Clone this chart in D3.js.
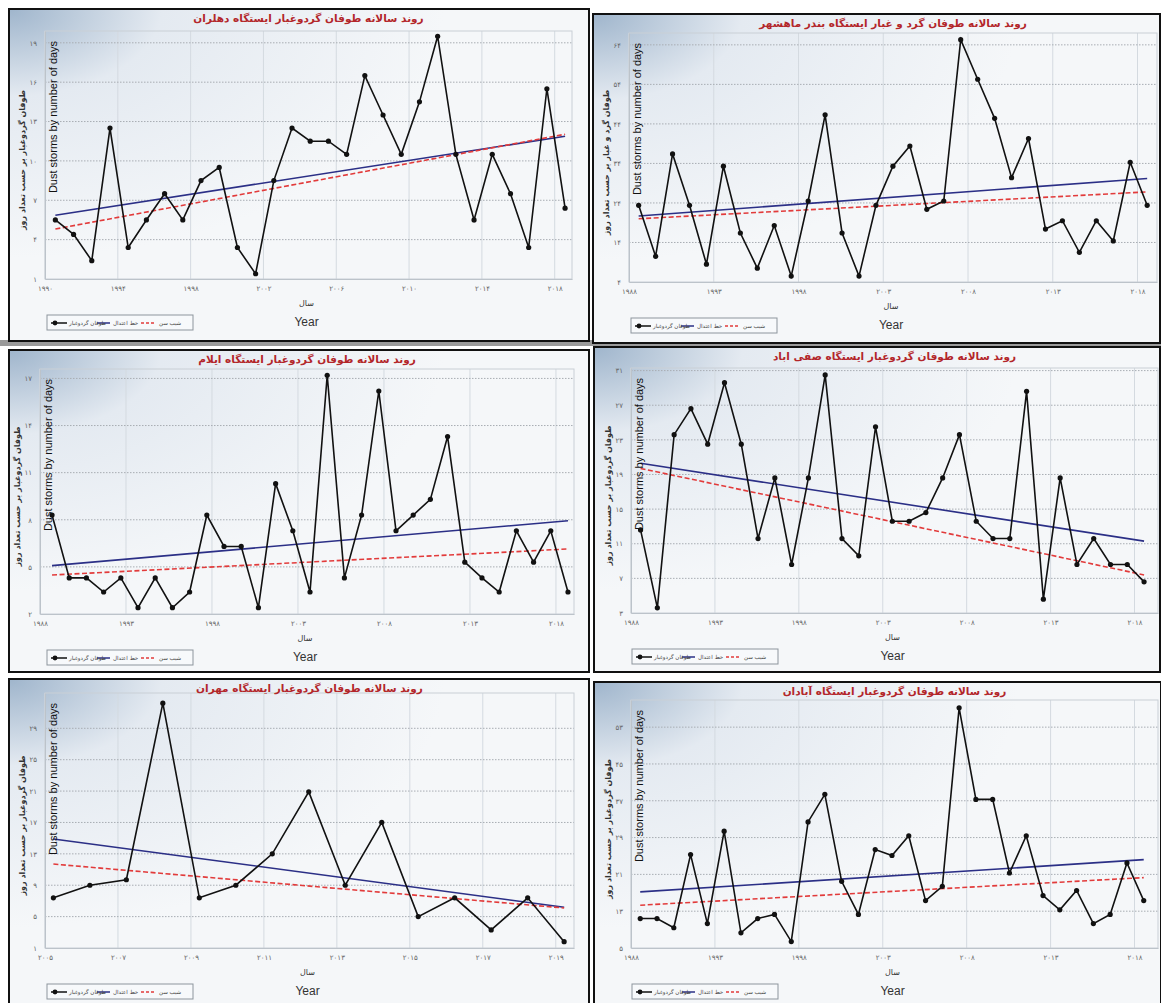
<!DOCTYPE html>
<html>
<head>
<meta charset="utf-8">
<script src="https://cdn.jsdelivr.net/npm/d3@7"></script>
<style>
  body { margin: 0; background: #fff; }
  svg { display: block; }
</style>
</head>
<body>
<svg id="chart" width="1161" height="1003"></svg>
<script>
//------------------- données -------------------

const titres = [
    "روند سالانه طوفان گردوغبار ایستگاه دهلران",
    "روند سالانه طوفان گرد و غبار ایستگاه بندر ماهشهر",
    "روند سالانه طوفان گردوغبار ایستگاه ایلام",
    "روند سالانه طوفان گردوغبار ایستگاه صفی اباد",
    "روند سالانه طوفان گردوغبار ایستگاه مهران",
    "روند سالانه طوفان گردوغبار ایستگاه آبادان"
];
const titresY = [
    "طوفان گردوغبار بر حسب تعداد روز",
    "طوفان گرد و غبار بر حسب تعداد روز",
    "طوفان گردوغبار بر حسب تعداد روز",
    "طوفان گردوغبار بر حسب تعداد روز",
    "طوفان گردوغبار بر حسب تعداد روز",
    "طوفان گردوغبار بر حسب تعداد روز"
];
const legendeTextes = ["طوفان گردوغبار", "خط اعتدال", "شیب سن"];

// Dehloran
const anneesDehloran = d3.range(1990, 2019);
const joursDehloran = [5.5, 4.4, 2.4, 12.5, 3.4, 5.5, 7.5, 5.5, 8.5, 9.5, 3.4, 1.4, 8.5, 12.5, 11.5,
    11.5, 10.5, 16.5, 13.5, 10.5, 14.5, 19.5, 10.5, 5.5, 10.5, 7.5, 3.4, 15.5, 6.4];
const tendanceDehloran = [5.86, 11.88];
const senDehloran = [4.81, 12.03];
const xTicksDehloran = [1990, 1994, 1998, 2002, 2006, 2010, 2014, 2018];
const yTicksDehloran = [1, 4, 7, 10, 13, 16, 19];

// Bandar Mahshahr
const anneesMahshahr = d3.range(1988, 2019);
const joursMahshahr = [23.4, 10.5, 36.4, 23.4, 8.5, 33.3, 16.4, 7.5, 18.3, 5.5, 24.5, 46.3, 16.4, 5.5, 23.4,
    33.3, 38.4, 22.4, 24.5, 65.3, 55.3, 45.4, 30.4, 40.3, 17.4, 19.5, 11.5, 19.5, 14.4, 34.3, 23.4];
const tendanceMahshahr = [20.7, 30.2];
const senMahshahr = [20.0, 26.8];
const xTicksMahshahr = [1988, 1993, 1998, 2003, 2008, 2013, 2018];
const yTicksMahshahr = [4, 14, 24, 34, 44, 54, 64];

// Ilam
const anneesIlam = d3.range(1988, 2019);
const joursIlam = [8.3, 4.3, 4.3, 3.4, 4.3, 2.4, 4.3, 2.4, 3.4, 8.3, 6.3, 6.3, 2.4, 10.3, 7.3, 3.4,
    17.2, 4.3, 8.3, 16.2, 7.3, 8.3, 9.3, 13.3, 5.3, 4.3, 3.4, 7.3, 5.3, 7.3, 3.4];
const tendanceIlam = [5.08, 7.94];
const senIlam = [4.48, 6.14];
const xTicksIlam = [1988, 1993, 1998, 2003, 2008, 2013, 2018];
const yTicksIlam = [2, 5, 8, 11, 14, 17];

// Safiabad
const anneesSafiabad = d3.range(1988, 2019);
const joursSafiabad = [12.6, 3.6, 23.6, 26.6, 22.5, 29.6, 22.5, 11.6, 18.6, 8.6, 18.6, 30.5, 11.6, 9.6, 24.5,
    13.6, 13.6, 14.6, 18.6, 23.6, 13.6, 11.6, 11.6, 28.6, 4.6, 18.6, 8.6, 11.6, 8.6, 8.6, 6.6];
const tendanceSafiabad = [20.3, 11.3];
const senSafiabad = [19.7, 7.4];
const xTicksSafiabad = [1988, 1993, 1998, 2003, 2008, 2013, 2018];
const yTicksSafiabad = [3, 7, 11, 15, 19, 23, 27, 31];

// Mehran
const anneesMehran = d3.range(2005, 2020);
const joursMehran = [7.4, 9.0, 9.7, 32.2, 7.4, 9.0, 13.0, 20.9, 9.0, 17.0, 5.0, 7.4, 3.3, 7.4, 1.8];
const tendanceMehran = [14.9, 6.2];
const senMehran = [11.7, 6.1];
const xTicksMehran = [2005, 2007, 2009, 2011, 2013, 2015, 2017, 2019];
const yTicksMehran = [1, 5, 9, 13, 17, 21, 25, 29];

// Abadan
const anneesAbadan = d3.range(1988, 2019);
const joursAbadan = [11.4, 11.4, 9.4, 25.3, 10.3, 30.4, 8.3, 11.4, 12.3, 6.4, 32.4, 38.4, 19.5, 12.3, 26.4,
    25.1, 29.4, 15.3, 18.4, 57.2, 37.3, 37.3, 21.3, 29.4, 16.4, 13.3, 17.5, 10.3, 12.3, 23.5, 15.3];
const tendanceAbadan = [17.2, 24.2];
const senAbadan = [14.3, 20.3];
const xTicksAbadan = [1988, 1993, 1998, 2003, 2008, 2013, 2018];
const yTicksAbadan = [5, 13, 21, 29, 37, 45, 53];

//------------------- mise en page des panneaux -------------------

const panneaux = [
    { cadre: [9, 9, 589, 341], plot: [45, 31, 572, 279], xDom: [1990, 2018.95], yDom: [1, 19.9], decal: 0.57,
      annees: anneesDehloran, jours: joursDehloran, tend: tendanceDehloran, sen: senDehloran,
      xTicks: xTicksDehloran, yTicks: yTicksDehloran },
    { cadre: [593, 14, 1160, 343], plot: [629, 33, 1157, 282], xDom: [1988, 2019.15], yDom: [4, 67], decal: 0.57,
      annees: anneesMahshahr, jours: joursMahshahr, tend: tendanceMahshahr, sen: senMahshahr,
      xTicks: xTicksMahshahr, yTicks: yTicksMahshahr },
    { cadre: [9, 350, 589, 672], plot: [40, 369, 574, 614], xDom: [1988, 2019.05], yDom: [2, 17.6], decal: 0.7,
      annees: anneesIlam, jours: joursIlam, tend: tendanceIlam, sen: senIlam,
      xTicks: xTicksIlam, yTicks: yTicksIlam },
    { cadre: [594, 347, 1160, 672], plot: [631, 368, 1158, 613], xDom: [1988, 2019.4], yDom: [3, 31.3], decal: 0.57,
      annees: anneesSafiabad, jours: joursSafiabad, tend: tendanceSafiabad, sen: senSafiabad,
      xTicks: xTicksSafiabad, yTicks: yTicksSafiabad },
    { cadre: [9, 679, 589, 1010], plot: [45, 693, 574, 948], xDom: [2005, 2019.5], yDom: [1, 33.5], decal: 0.23,
      annees: anneesMehran, jours: joursMehran, tend: tendanceMehran, sen: senMehran,
      xTicks: xTicksMehran, yTicks: yTicksMehran },
    { cadre: [594, 682, 1161, 1010], plot: [631, 700, 1158, 948], xDom: [1988, 2019.4], yDom: [5, 58.9], decal: 0.55,
      annees: anneesAbadan, jours: joursAbadan, tend: tendanceAbadan, sen: senAbadan,
      xTicks: xTicksAbadan, yTicks: yTicksAbadan }
];

const chiffresFa = "۰۱۲۳۴۵۶۷۸۹";
function enPersan(n) {
    return String(n).replace(/\d/g, d => chiffresFa[d]);
}

const fontFa = "'DejaVu Sans', sans-serif";
const svg = d3.select("#chart");
const defs = svg.append("defs");

const grad = defs.append("radialGradient")
    .attr("id", "fond")
    .attr("cx", 0).attr("cy", 0).attr("r", 0.75)
    .attr("gradientUnits", "objectBoundingBox");
grad.append("stop").attr("offset", "0%").attr("stop-color", "#9fb5cc");
grad.append("stop").attr("offset", "35%").attr("stop-color", "#e4eaf1");
grad.append("stop").attr("offset", "100%").attr("stop-color", "#f5f7f9");

svg.append("rect").attr("x", 0).attr("y", 340).attr("width", 1161).attr("height", 6).attr("fill", "#9a9a9a");

//------------------- dessin d'un panneau -------------------

function dessinerPanneau(p, i) {
    const [fx0, fy0, fx1, fy1] = p.cadre;
    const [px0, py0, px1, py1] = p.plot;
    const g = svg.append("g");

    g.append("rect")
        .attr("x", fx0).attr("y", fy0)
        .attr("width", fx1 - fx0).attr("height", fy1 - fy0)
        .attr("fill", "url(#fond)")
        .attr("stroke", "#111").attr("stroke-width", 2);

    const x = d3.scaleLinear().domain(p.xDom).range([px0, px1]);
    const y = d3.scaleLinear().domain(p.yDom).range([py1, py0]);

    // grille verticale
    g.append("g").selectAll("line").data(p.xTicks).join("line")
        .attr("x1", d => x(d)).attr("x2", d => x(d))
        .attr("y1", py0).attr("y2", py1)
        .attr("stroke", "#d4dae0").attr("stroke-width", 1);
    // grille horizontale pointillée
    g.append("g").selectAll("line").data(p.yTicks.slice(1)).join("line")
        .attr("x1", px0).attr("x2", px1)
        .attr("y1", d => y(d)).attr("y2", d => y(d))
        .attr("stroke", "#a8adb3").attr("stroke-width", 1)
        .attr("stroke-dasharray", "1.5,1.5");

    g.append("rect")
        .attr("x", px0).attr("y", py0)
        .attr("width", px1 - px0).attr("height", py1 - py0)
        .attr("fill", "none").attr("stroke", "#c9cfd6");

    // axes
    const axeX = d3.axisBottom(x).tickValues(p.xTicks).tickSize(0).tickFormat(enPersan);
    g.append("g").attr("transform", `translate(0,${py1})`).call(axeX)
        .call(a => a.select(".domain").attr("stroke", "#bcc3ca"))
        .selectAll("text")
        .attr("dy", 9).attr("fill", "#666").attr("font-size", 7).attr("font-family", fontFa);

    const axeY = d3.axisLeft(y).tickValues(p.yTicks).tickSize(0).tickFormat(enPersan);
    g.append("g").attr("transform", `translate(${px0},0)`).call(axeY)
        .call(a => a.select(".domain").attr("stroke", "#bcc3ca"))
        .selectAll("text")
        .attr("dx", -5).attr("fill", "#666").attr("font-size", 7).attr("font-family", fontFa);

    // droites de tendance
    const xDeb = x(p.annees[0] + p.decal);
    const xFin = x(p.annees[p.annees.length - 1] + p.decal);
    g.append("line")
        .attr("x1", xDeb).attr("x2", xFin)
        .attr("y1", y(p.tend[0])).attr("y2", y(p.tend[1]))
        .attr("stroke", "#2b2f86").attr("stroke-width", 1.6);
    g.append("line")
        .attr("x1", xDeb).attr("x2", xFin)
        .attr("y1", y(p.sen[0])).attr("y2", y(p.sen[1]))
        .attr("stroke", "#e23b3b").attr("stroke-width", 1.6)
        .attr("stroke-dasharray", "5,2.5");

    // série
    const pts = p.annees.map((a, k) => [a + p.decal, p.jours[k]]);
    const ligne = d3.line().x(d => x(d[0])).y(d => y(d[1]));
    g.append("path").datum(pts)
        .attr("d", ligne)
        .attr("fill", "none").attr("stroke", "#111").attr("stroke-width", 1.6);
    g.append("g").selectAll("circle").data(pts).join("circle")
        .attr("cx", d => x(d[0])).attr("cy", d => y(d[1]))
        .attr("r", 2.6).attr("fill", "#111");

    // textes
    const cx = (px0 + px1) / 2;
    g.append("text")
        .attr("x", cx).attr("y", fy0 + 13)
        .attr("text-anchor", "middle")
        .attr("font-family", fontFa).attr("font-weight", "bold").attr("font-size", 10.5)
        .attr("fill", "#b3262a")
        .text(titres[i]);

    g.append("text")
        .attr("transform", `translate(${px0 + 12},${py0 + 86}) rotate(-90)`)
        .attr("text-anchor", "middle")
        .attr("font-family", "'Liberation Sans', Arial, sans-serif").attr("font-size", 11)
        .attr("fill", "#111")
        .text("Dust storms by number of days");

    g.append("text")
        .attr("transform", `translate(${px0 - 20},${(py0 + py1) / 2 + 5}) rotate(-90)`)
        .attr("text-anchor", "middle")
        .attr("font-family", fontFa).attr("font-weight", "bold").attr("font-size", 8)
        .attr("fill", "#333")
        .text(titresY[i]);

    g.append("text")
        .attr("x", cx - 2).attr("y", py1 + 27)
        .attr("text-anchor", "middle")
        .attr("font-family", fontFa).attr("font-size", 8).attr("fill", "#333")
        .text("سال");

    g.append("text")
        .attr("x", cx - 2).attr("y", py1 + 47)
        .attr("text-anchor", "middle")
        .attr("font-family", "'Liberation Sans Narrow', 'Liberation Sans', sans-serif")
        .attr("font-size", 12).attr("fill", "#333")
        .text("Year");

    // légende
    const lx = fx0 + 38, ly = py1 + 36;
    const leg = g.append("g").attr("transform", `translate(${lx},${ly})`);
    leg.append("rect").attr("width", 146).attr("height", 15)
        .attr("fill", "#f7f9fb").attr("stroke", "#8d959d");
    leg.append("line").attr("x1", 4).attr("x2", 20).attr("y1", 8).attr("y2", 8)
        .attr("stroke", "#111").attr("stroke-width", 1.5);
    leg.append("circle").attr("cx", 8).attr("cy", 8).attr("r", 2.4).attr("fill", "#111");
    leg.append("line").attr("x1", 50).attr("x2", 63).attr("y1", 8).attr("y2", 8)
        .attr("stroke", "#2b2f86").attr("stroke-width", 1.5);
    leg.append("line").attr("x1", 94).attr("x2", 108).attr("y1", 8).attr("y2", 8)
        .attr("stroke", "#e23b3b").attr("stroke-width", 1.5).attr("stroke-dasharray", "3,2");
    [[22, 0], [66, 1], [112, 2]].forEach(([tx, k]) => {
        leg.append("text").attr("x", tx).attr("y", 10)
            .attr("font-family", fontFa).attr("font-size", 5.5).attr("fill", "#444")
            .text(legendeTextes[k]);
    });
}

panneaux.forEach(dessinerPanneau);
</script>
</body>
</html>
